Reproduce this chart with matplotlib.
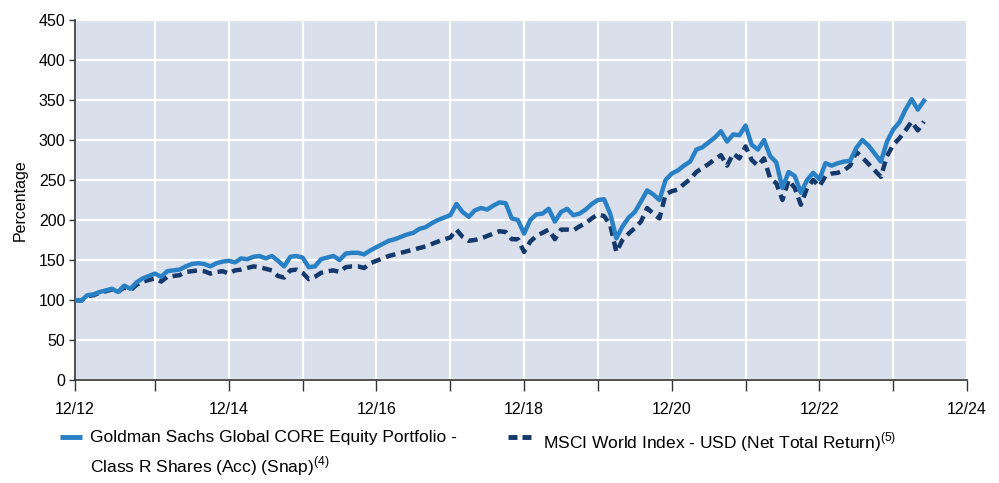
import matplotlib
matplotlib.use("Agg")
import matplotlib.pyplot as plt
from matplotlib.lines import Line2D
from matplotlib import font_manager

names = {f.name for f in font_manager.fontManager.ttflist}
fam = ['Liberation Sans Narrow', 'Liberation Sans', 'DejaVu Sans']
fam = [f for f in fam if f in names] or ['DejaVu Sans']
plt.rcParams['font.family'] = fam

# Monthly values, index 0 = start of chart (12/12), last = 05/24
fund = [100, 99, 106, 107, 110, 112, 114, 110, 118, 114, 122, 127, 130, 133, 129, 136,
        137, 138, 142, 145, 146, 145, 142, 146,
        148, 149, 147, 152, 151, 154, 155, 152, 155, 149, 142, 154, 155, 153, 141, 142,
        151, 153, 155, 150, 158, 159, 159, 157,
        162, 166, 170, 174, 176, 179, 182, 184, 189, 191, 196, 200, 203, 206, 220, 210,
        204, 212, 215, 213, 218, 222, 221,
        202, 200, 183, 200, 207, 208, 214, 198, 210, 214, 206, 208, 213, 220, 225, 226,
        208, 177, 192, 203, 210, 223, 237, 232,
        225, 250, 258, 262, 268, 273, 288, 291, 297, 303, 311, 298, 307, 306, 318, 294,
        288, 300, 280, 272, 240, 260, 255, 234, 250, 259, 251, 271, 268, 271, 273, 274,
        290, 300, 293, 283, 273, 298, 313, 322, 338, 351, 338, 349]

index = [100, 99, 105, 106, 109, 111, 113, 110, 116, 112, 119, 123, 125, 127, 123, 129,
         130, 131, 135, 136, 137, 136, 133, 135,
         136, 133, 137, 138, 140, 142, 141, 139, 137, 130, 128, 137, 138, 134, 126, 129,
         134, 136, 137, 135, 141, 142, 142, 140,
         146, 149, 152, 155, 157, 159, 161, 163, 165, 167, 170, 173, 176, 178, 188, 179,
         174, 175, 177, 180, 183, 186, 185,
         176, 176, 160, 173, 180, 184, 188, 176, 188, 188, 187, 192, 196, 202, 207, 205,
         194, 160, 175, 183, 190, 198, 215, 208,
         202, 232, 236, 238, 245, 251, 260, 265, 270, 276, 281, 268, 283, 277, 292, 275,
         268, 277, 252, 246, 225, 250, 240, 219, 240, 250, 242, 255, 258, 259, 262, 268,
         285, 278, 270, 262, 254, 280, 294, 302, 312, 323, 312, 323]

tick_labels = ['12/12', '', '12/14', '', '12/16', '', '12/18', '', '12/20', '', '12/22', '', '12/24']
yticks = [0, 50, 100, 150, 200, 250, 300, 350, 400, 450]

fund_label = 'Goldman Sachs Global CORE Equity Portfolio -\nClass R Shares (Acc) (Snap)' + r'$^{\mathregular{(4)}}$'
index_label = 'MSCI World Index - USD (Net Total Return)' + r'$^{\mathregular{(5)}}$'

fig = plt.figure(figsize=(9.99, 4.83), dpi=100)
ax = fig.add_axes([75/999, 1-380/483, (967-75)/999, 360/483])
ax.set_facecolor('#dae0eb')

x = list(range(len(fund)))
blue = '#2a80c4'
navy = '#16396b'
ax.plot(x, fund, color=blue, lw=3.2, zorder=3)
ax.plot(range(len(index)), index, color=navy, lw=3.2, ls=(0, (2.2, 1.3)), zorder=2)

xt = [0] + [13 + 12*k for k in range(12)]
ax.set_xticks(xt)
ax.set_xticklabels(tick_labels, fontsize=11.5)
ax.set_xlim(0, 145)
ax.set_yticks(yticks)
ax.set_yticklabels([str(v) for v in yticks], fontsize=11.5)
ax.set_ylim(0, 450)
ax.grid(True, color='white', lw=1.6, zorder=0)
ax.set_axisbelow(True)
for s in ['top', 'right']:
    ax.spines[s].set_visible(False)
ax.spines['left'].set_color('#333333')
ax.spines['bottom'].set_color('#333333')
ax.spines['left'].set_linewidth(1.2)
ax.spines['bottom'].set_linewidth(1.2)
ax.tick_params(axis='x', length=8, width=1, color='#333333', pad=8)
ax.tick_params(axis='y', length=4, width=1, color='#333333', pad=3)
ax.set_ylabel('Percentage', fontsize=11.5, labelpad=8)

# legend
ly = 1 - 437/483
fig.add_artist(Line2D([60/999, 82/999], [ly, ly], color=blue, lw=3.5, solid_capstyle='butt'))
fig.text(90/999, 1-430/483, fund_label, fontsize=12.5, va='top', ha='left', linespacing=1.5)
fig.add_artist(Line2D([508/999, 517/999], [ly, ly], color=navy, lw=3.5, solid_capstyle='butt'))
fig.add_artist(Line2D([522/999, 531/999], [ly, ly], color=navy, lw=3.5, solid_capstyle='butt'))
fig.text(543/999, 1-430/483, index_label, fontsize=12.5, va='top', ha='left')

fig.savefig('out.png', dpi=100)
